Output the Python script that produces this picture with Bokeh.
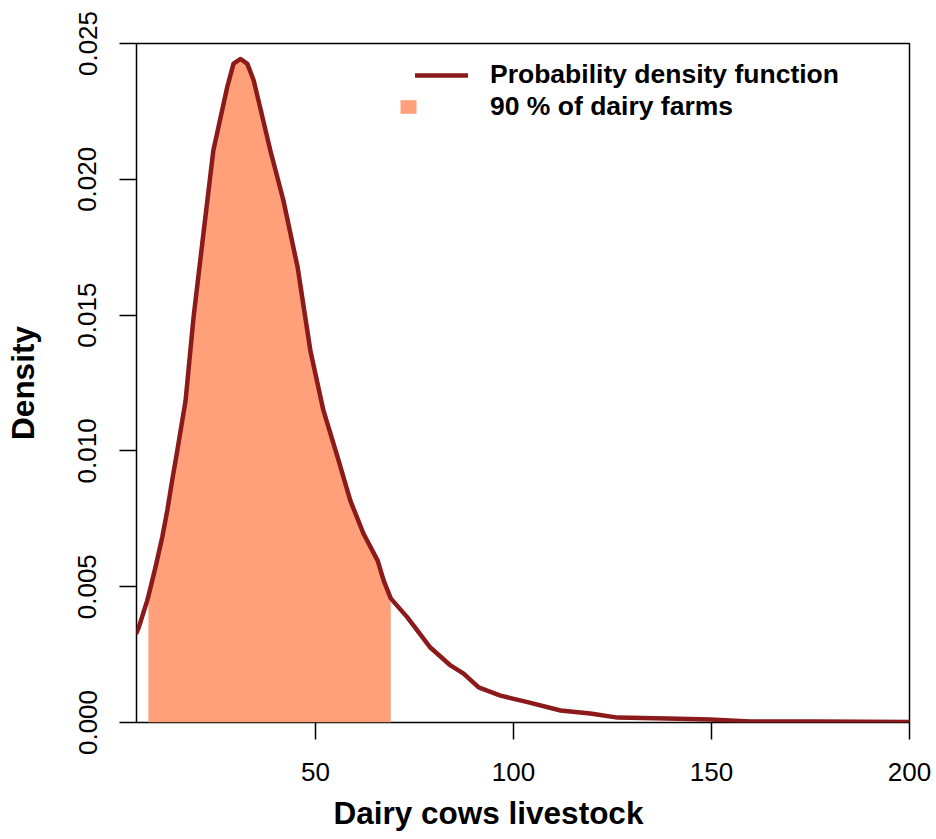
import numpy as np
from bokeh.plotting import figure
from bokeh.models import (Range1d, FixedTicker, PrintfTickFormatter, Legend,
                          LegendItem, Title)
from bokeh.embed import file_html
from bokeh.resources import INLINE

# Kernel density of herd size (number of dairy cows per farm)
cows = [4.8, 5.4, 7.5, 7.8, 9.6, 11.3, 12.6, 13.8, 15.1, 17.2, 19.2, 21.7,
        24.2, 27.7, 29.3, 31.1, 32.8, 34.4, 38.6, 41.9, 45.5, 48.7, 52.0,
        55.6, 58.8, 62.1, 65.7, 67.2, 69.0, 73.2, 79.0, 84.1, 87.4, 91.2,
        96.7, 103.8, 111.9, 119.4, 126.3, 138.9, 149.7, 159.8, 176.8, 200.0]
density = [0.00330, 0.00351, 0.00449, 0.00465, 0.00572, 0.00682, 0.00783,
           0.00891, 0.01001, 0.01186, 0.01491, 0.01800, 0.02106, 0.02339,
           0.02426, 0.02443, 0.02425, 0.02364, 0.02106, 0.01922, 0.01675,
           0.01370, 0.01149, 0.00976, 0.00817, 0.00696, 0.00596, 0.00523,
           0.00457, 0.00387, 0.00276, 0.00210, 0.00180, 0.00129, 0.00099,
           0.00074, 0.00044, 0.00033, 0.00018, 0.00015, 0.00011, 0.00004,
           0.00004, 0.00002]

# interval holding 90 % of the farms
shade_lo = 7.8
shade_hi = 69.0

x_ticks = [50, 100, 150, 200]
y_ticks = [0.000, 0.005, 0.010, 0.015, 0.020, 0.025]

line_label = "Probability density function"
area_label = "90 % of dairy farms"
x_title = "Dairy cows livestock"
y_title = "Density"

FONT = "Liberation Sans"
LINE_COLOR = "#8B1A1A"
FILL_COLOR = "#FFA07A"

p = figure(width=936, height=839,
           x_range=Range1d(4.8, 200), y_range=Range1d(0, 0.025),
           output_backend="svg", toolbar_location=None,
           min_border_left=136, min_border_right=27,
           min_border_top=43, min_border_bottom=117,
           y_axis_label=y_title)

p.xgrid.visible = False
p.ygrid.visible = False
p.background_fill_color = "white"
p.border_fill_color = "white"
p.outline_line_color = "black"
p.outline_line_width = 1.5
p.outline_line_alpha = 1.0

p.xaxis.ticker = FixedTicker(ticks=x_ticks)
p.yaxis.ticker = FixedTicker(ticks=y_ticks)
p.yaxis.formatter = PrintfTickFormatter(format="%.3f")
p.yaxis.major_label_orientation = "vertical"

for ax in (p.xaxis, p.yaxis):
    ax.axis_line_color = None
    ax.major_tick_in = 0
    ax.major_tick_out = 17
    ax.major_tick_line_width = 1.5
    ax.major_tick_line_color = "black"
    ax.minor_tick_line_color = None
    ax.major_label_text_font = FONT
    ax.major_label_text_font_size = "26px"
    ax.major_label_text_color = "black"
    ax.axis_label_text_font = FONT
    ax.axis_label_text_font_size = "31.5px"
    ax.axis_label_text_font_style = "bold"
    ax.axis_label_text_color = "black"

p.xaxis.major_label_standoff = 23
p.yaxis.major_label_standoff = 23
p.yaxis.axis_label_standoff = 35

x = np.array(cows)
y = np.array(density)
inside = (x >= shade_lo) & (x <= shade_hi)

area = p.varea(x=x[inside], y1=np.zeros(inside.sum()), y2=y[inside],
               fill_color=FILL_COLOR, fill_alpha=1.0)
curve = p.line(x, y, line_color=LINE_COLOR, line_width=4.5,
               line_join="round", line_cap="round")

# x-axis title as a side-panel title, start-aligned with a pixel offset
p.add_layout(Title(text=x_title, offset=197, standoff=18, align="left",
                   text_font=FONT, text_font_size="31.5px",
                   text_font_style="bold", text_color="black"), "below")

common = dict(padding=0, margin=0, spacing=0,
              border_line_alpha=0, background_fill_alpha=0,
              label_text_font=FONT, label_text_font_size="26.5px",
              label_text_font_style="bold", label_text_color="black")

leg_line = Legend(items=[LegendItem(label=line_label, renderers=[curve])],
                  location=(279, 632), glyph_width=53, glyph_height=26,
                  label_standoff=22, **common)
leg_area = Legend(items=[LegendItem(label=area_label, renderers=[area])],
                  location=(262, 600), glyph_width=20, glyph_height=17,
                  label_standoff=72, **common)
p.add_layout(leg_line, "center")
p.add_layout(leg_area, "center")

open("out.html", "w").write(file_html(p, INLINE))
